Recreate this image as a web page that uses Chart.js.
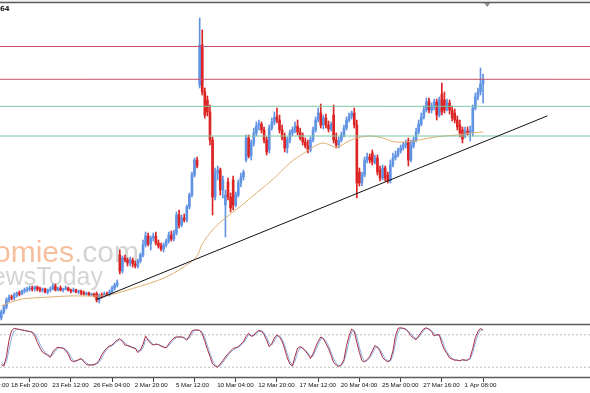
<!DOCTYPE html>
<html>
<head>
<meta charset="utf-8">
<script src="https://cdn.jsdelivr.net/npm/chart.js@4.4.0/dist/chart.umd.min.js"></script>
<style>
  html, body { margin: 0; padding: 0; background: #fff; }
  #chart { display: block; }
</style>
</head>
<body>
<canvas id="chart" width="590" height="393"></canvas>
<script>
// H4 candles (price units are arbitrary)
const opens = [
  682,688,693,700,703,702,705,707,706,709, 710,711,712,711,713,711,710,711,708,710,
  711,714,710,712,710,711,712,710,709,710, 708,709,707,706,707,705,706,706,700,705,
  704,706,705,708,712,715,745,729,742,740, 737,740,736,734,739,745,755,764,756,762,
  764,757,754,751,755,759,765,761,767,785, 775,782,780,793,805,825,840,915,955,908,
  900,888,860,803,827,830,810,795,818,803, 820,795,805,817,823,840,862,844,857,867,
  874,876,870,860,850,872,878,883,880,870, 863,852,860,867,870,874,868,862,858,854,
  850,860,870,880,887,875,882,875,871,885, 860,855,860,865,872,880,884,887,875,828,
  817,825,840,843,847,838,842,830,822,832, 825,819,835,842,845,849,852,855,859,840,
  854,860,868,876,883,890,899,890,894,898, 885,906,900,892,897,890,887,880,875,870,
  865,869,867,867,892,903,908,916
];
const highs = [
  690,695,702,705,705,707,708,709,710,712, 713,714,714,714,714,713,712,712,711,713,
  716,716,713,714,712,714,713,711,712,711, 710,710,709,708,708,707,707,708,706,707,
  708,708,710,714,717,720,750,744,745,742, 743,742,739,741,747,760,768,767,764,767,
  768,760,757,757,761,768,769,770,788,790, 785,786,795,807,828,842,843,982,970,912,
  904,895,863,832,834,832,824,810,822,807, 824,808,820,827,830,865,865,860,872,878,
  880,878,873,863,875,882,888,892,885,875, 867,863,870,873,878,880,872,867,862,860,
  863,873,883,892,896,885,886,879,878,895, 867,863,868,875,883,887,889,892,880,832,
  828,843,847,846,850,845,845,834,835,834, 828,840,847,849,852,855,858,860,862,860,
  863,872,880,887,894,902,902,897,901,901, 903,917,908,901,900,894,891,884,880,873,
  873,873,874,895,907,912,932,926
];
const lows = [
  680,686,691,698,700,700,703,704,705,707, 708,709,709,709,709,708,708,707,706,708,
  710,709,709,709,708,710,709,707,708,707, 706,705,705,705,704,704,703,698,697,702,
  703,704,704,707,710,713,726,727,738,734, 734,733,732,732,737,743,753,754,750,759,
  755,752,749,748,753,757,759,759,765,772, 773,778,778,791,803,823,832,912,905,882,
  884,855,785,800,820,805,802,763,800,788, 790,793,803,813,820,838,842,840,854,864,
  870,867,857,845,847,870,875,877,867,860, 848,847,857,864,867,865,860,855,852,847,
  848,858,868,878,872,871,872,868,869,857, 852,852,858,863,870,878,881,872,802,814,
  814,823,837,837,835,836,825,819,820,819, 817,817,833,840,843,847,850,852,834,838,
  852,858,866,874,881,888,887,887,890,880, 883,885,887,889,886,879,877,870,863,857,
  862,865,859,864,890,900,905,897
];
const closes = [
  688,693,700,703,702,705,707,706,709,710, 711,712,711,713,711,710,711,708,710,711,
  714,710,712,710,711,712,710,709,710,708, 709,707,706,707,705,706,704,700,705,704,
  706,705,708,712,715,717,729,742,740,737, 740,736,734,739,745,755,764,756,762,764,
  757,754,751,755,759,765,761,767,785,775, 782,780,793,805,825,840,834,955,908,885,
  888,860,803,827,830,810,820,805,803,792, 795,805,817,823,828,862,844,857,867,874,
  876,870,860,848,872,878,883,880,870,863, 852,860,867,870,874,868,862,858,854,850,
  860,870,880,887,875,882,875,871,876,860, 855,860,865,872,880,884,887,875,817,817,
  825,840,843,840,838,842,828,822,832,822, 819,835,842,845,849,852,855,857,840,854,
  860,868,876,883,890,898,890,894,898,885, 900,888,890,897,890,882,880,873,867,861,
  869,867,870,892,903,908,916,920
];

// moving average, read at a few bars
const maBars = [0,4,8,12,19,26,34,38,42,48,54,58,64,69,73,76,78,82,86,93,99,106,112,118,121,125,130,135,138,143,148,153,160,166,172,177,182,187];
const maValues = [694,698,701,702,703,704,704,704,705,709,714,717,723,730,737,744,756,770,780,794,807,822,837,848,853,857,853,859,862,864,862,858,859,862,864,865,867,868];

// stochastic oscillator (main and signal)
const stochMain = [
  25,22,40,70,88,92,91,90,89,88, 87,86,85,78,66,56,48,45,42,38,
  48,54,57,56,55,51,44,33,30,32, 34,36,30,25,24,24,25,27,33,43,
  50,56,59,61,66,70,73,68,61,60, 58,56,55,47,52,62,78,70,64,61,
  63,62,59,57,56,63,69,74,76,76, 76,74,70,78,87,89,89,88,82,68,
  53,40,26,22,20,26,32,39,45,50, 55,56,58,63,67,77,83,77,79,85,
  88,87,80,70,58,64,74,80,76,68, 54,37,26,22,40,55,58,55,50,44,
  36,45,57,68,76,73,64,55,42,29, 24,21,25,34,60,78,91,86,66,47,
  32,30,34,40,50,60,57,50,38,33, 30,33,50,78,92,93,92,90,85,78,
  74,71,78,85,91,93,90,86,78,80, 80,64,52,45,37,35,33,33,32,34,
  33,33,38,55,75,86,92,88
];
const stochSignal = [
  30,24,30,52,75,87,90,90,89,88, 87,86,85,82,74,63,54,47,44,41,
  43,50,55,56,56,53,48,39,32,31, 33,35,33,28,25,24,24,26,29,37,
  46,53,57,60,63,68,71,70,65,61, 59,57,55,51,50,56,70,72,67,62,
  62,62,60,58,56,60,66,71,75,76, 76,75,72,74,82,88,89,88,85,75,
  60,46,33,24,21,23,29,35,42,48, 52,55,57,60,65,72,80,80,78,82,
  86,87,84,75,64,61,69,77,78,72, 61,45,31,24,31,47,56,56,52,47,
  40,40,51,62,72,74,69,60,48,35, 27,23,23,30,47,69,85,88,76,56,
  40,31,32,37,45,55,58,53,44,36, 32,31,42,64,85,92,92,91,87,82,
  76,73,75,82,88,92,91,88,82,79, 80,72,58,48,41,36,34,33,32,33,
  33,33,35,47,65,80,89,90
];
const stochLevels = [80, 20];

// horizontal levels and trend line
const resistanceLevels = [953.5, 920.7];
const supportLevels = [893.7, 864];
const trendBars = [37, 212];
const trendValues = [700.4, 884.2];

// time axis
const tickBars = [-12,3,19,35,51,67,83,99,115,131,147,163,179];
const tickText = ['16 Feb 04:00','18 Feb 20:00','23 Feb 12:00','26 Feb 04:00','2 Mar 20:00','5 Mar 12:00','10 Mar 04:00','12 Mar 20:00','17 Mar 12:00','20 Mar 04:00','25 Mar 00:00','27 Mar 16:00','1 Apr 08:00'];

const upColor = '#6193e4';
const downColor = '#dd2424';
const candleColors = opens.map((o, i) => closes[i] >= o ? upColor : downColor);
const xMin = -0.5, xMax = 228.5;

function hLine(y) {
  return [{x: xMin, y: y}, {x: xMax, y: y}];
}

const datasets = [];

// trend line on top
datasets.push({
  type: 'line', data: trendBars.map((b, k) => ({x: b, y: trendValues[k]})),
  borderColor: '#111', borderWidth: 1, pointRadius: 0, yAxisID: 'y'
});
resistanceLevels.forEach(v => datasets.push({
  type: 'line', data: hLine(v), borderColor: '#c9506a', borderWidth: 1, pointRadius: 0, yAxisID: 'y'
}));
supportLevels.forEach(v => datasets.push({
  type: 'line', data: hLine(v), borderColor: '#79c8a2', borderWidth: 1, pointRadius: 0, yAxisID: 'y'
}));
datasets.push({
  type: 'line', data: maBars.map((b, k) => ({x: b, y: maValues[k]})),
  borderColor: '#dfae70', borderWidth: 1, pointRadius: 0, tension: 0.35, yAxisID: 'y'
});
datasets.push({
  type: 'bar', data: opens.map((o, i) => ({x: i, y: [o, closes[i]]})),
  backgroundColor: candleColors, barThickness: 2, grouped: false, yAxisID: 'y'
});
datasets.push({
  type: 'bar', data: lows.map((l, i) => ({x: i, y: [l, highs[i]]})),
  backgroundColor: candleColors, barThickness: 1, grouped: false, yAxisID: 'y'
});

// stochastic pane
datasets.push({
  type: 'line', data: stochMain.map((v, i) => ({x: i, y: v})),
  borderColor: '#a82c44', borderWidth: 1, pointRadius: 0, yAxisID: 'ys'
});
datasets.push({
  type: 'line', data: stochSignal.map((v, i) => ({x: i, y: v})),
  borderColor: '#8aaede', borderWidth: 1, pointRadius: 0, yAxisID: 'ys'
});
stochLevels.forEach(v => datasets.push({
  type: 'line', data: hLine(v), borderColor: '#bdbdbd', borderWidth: 1, borderDash: [2, 2], pointRadius: 0, yAxisID: 'ys'
}));

const hiddenY = {
  position: 'left', stack: 'panes',
  ticks: {display: false}, grid: {display: false, drawTicks: false}, border: {display: false},
  afterFit: s => { s.width = 0; }
};

// frames, watermark and small labels
const decor = {
  id: 'decor',
  beforeDatasetsDraw(chart) {
    const ctx = chart.ctx;
    ctx.save();
    ctx.font = '30px "Liberation Sans", Arial, sans-serif';
    ctx.textBaseline = 'alphabetic';
    ctx.textAlign = 'right';
    ctx.fillStyle = '#f6bf9e';
    ctx.fillText('Economies', 74, 262);
    ctx.textAlign = 'left';
    ctx.fillStyle = '#d4d4d4';
    ctx.fillText('.com', 74, 262);
    ctx.font = '25px "Liberation Sans", Arial, sans-serif';
    ctx.textAlign = 'right';
    ctx.fillText('NewsToday', 103, 285);
    ctx.restore();
  },
  afterDraw(chart) {
    const ctx = chart.ctx;
    const y = chart.scales.y, ys = chart.scales.ys, x = chart.scales.x;
    ctx.save();
    ctx.fillStyle = '#f2f2f2';
    ctx.fillRect(0, 0, chart.width, y.top - 1);
    ctx.strokeStyle = '#5c5c5c';
    ctx.lineWidth = 1.5;
    ctx.beginPath();
    ctx.moveTo(0, y.top - 0.5); ctx.lineTo(chart.width, y.top - 0.5);
    ctx.moveTo(0, ys.top + 0.5); ctx.lineTo(chart.width, ys.top + 0.5);
    ctx.moveTo(0, ys.bottom - 0.5); ctx.lineTo(chart.width, ys.bottom - 0.5);
    ctx.stroke();
    // chart shift marker
    const sx = x.getPixelForValue(188.6);
    ctx.fillStyle = '#8a8a8a';
    ctx.beginPath();
    ctx.moveTo(sx - 3, y.top); ctx.lineTo(sx + 3, y.top); ctx.lineTo(sx, y.top + 4);
    ctx.closePath(); ctx.fill();
    ctx.fillStyle = '#222';
    ctx.font = 'bold 7px "DejaVu Sans", sans-serif';
    ctx.textBaseline = 'alphabetic';
    ctx.fillText('64', 0, 11);
    ctx.restore();
  }
};

new Chart(document.getElementById('chart'), {
  type: 'bar',
  data: {datasets: datasets},
  options: {
    responsive: false,
    animation: false,
    devicePixelRatio: 1,
    layout: {padding: {top: 3, left: 0, right: 0, bottom: 0}},
    plugins: {legend: {display: false}, tooltip: {enabled: false}},
    scales: {
      x: {
        type: 'linear', min: xMin, max: xMax, offset: false,
        afterBuildTicks: s => { s.ticks = tickBars.map(v => ({value: v})); },
        afterFit: s => { s.height = 15; s.paddingLeft = 0; s.paddingRight = 0; },
        ticks: {
          autoSkip: false, maxRotation: 0, align: 'start', labelOffset: 2, padding: 0,
          color: '#111', font: {size: 6.2, family: '"Liberation Sans", Arial, sans-serif'},
          callback: v => tickText[tickBars.indexOf(v)]
        },
        grid: {drawOnChartArea: false, drawTicks: true, tickLength: 4, color: '#444'},
        border: {display: false}
      },
      // stacked panes: the pane listed last ends up on top
      ys: Object.assign({}, hiddenY, {type: 'linear', min: 0, max: 100, stackWeight: 54}),
      y: Object.assign({}, hiddenY, {type: 'linear', min: 676, max: 997, stackWeight: 321})
    }
  },
  plugins: [decor]
});
</script>
</body>
</html>
